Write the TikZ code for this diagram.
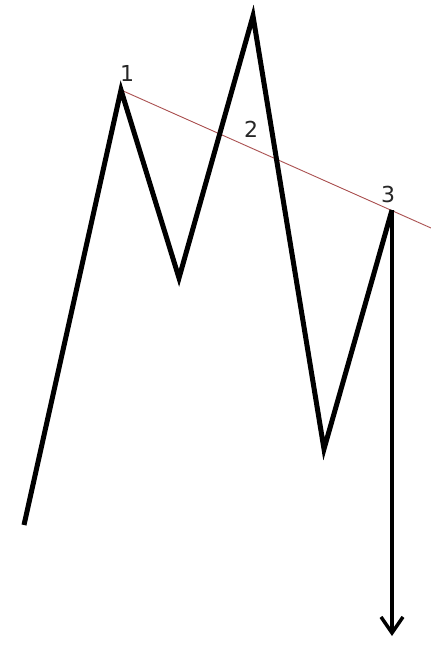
\documentclass[tikz,border=0pt]{standalone}
\usepackage{fontspec}
\setmainfont{DejaVu Sans}
\usetikzlibrary{arrows.meta}
\definecolor{trendred}{RGB}{170,80,80}
\tikzset{
  wave/.style={line width=5pt, line join=miter, black},
  trend/.style={line width=0.9pt, trendred},
  lbl/.style={font=\fontsize{22}{24}\selectfont, inner sep=0pt, text=black!85}
}
\begin{document}
\begin{tikzpicture}[x=1pt,y=-1pt]
\useasboundingbox (0,0) rectangle (431,646);
\fill[white] (0,0) rectangle (431,646);
\coordinate (s) at (24,525);
\coordinate (p1) at (121,90);
\coordinate (t1) at (179,278);
\coordinate (p2) at (253,16);
\coordinate (t2) at (324,449);
\coordinate (p3) at (392,210);
\coordinate (e) at (392,636);
\coordinate (r) at (431,228);
\draw[trend] (p1) -- (r);
\draw[wave] (s) -- (p1) -- (t1) -- (p2) -- (t2) -- (p3);
\draw[line width=4.5pt, -{Straight Barb[length=16pt,width=22pt,line width=3.5pt]}] (p3) -- (e);
\node[lbl] (l1) at (127,73) {1};
\node[lbl] (l2) at (251,129) {2};
\node[lbl] (l3) at (388,194) {3};
\end{tikzpicture}
\end{document}
